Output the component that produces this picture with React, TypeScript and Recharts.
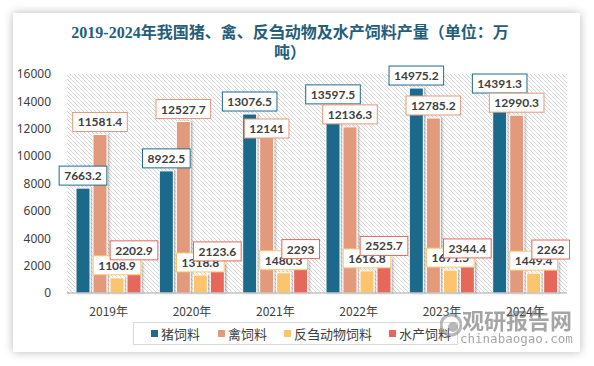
import React from "react";
import { BarChart, Bar, XAxis, YAxis, CartesianGrid, LabelList } from "recharts";

const years = ["2019年", "2020年", "2021年", "2022年", "2023年", "2024年"];
const pigFeed = [7663.2, 8922.5, 13076.5, 13597.5, 14975.2, 14391.3];
const poultryFeed = [11581.4, 12527.7, 12141, 12136.3, 12785.2, 12990.3];
const ruminantFeed = [1108.9, 1318.8, 1480.3, 1616.8, 1671.5, 1449.4];
const aquaFeed = [2202.9, 2123.6, 2293, 2525.7, 2344.4, 2262];
const yTicks = [0, 2000, 4000, 6000, 8000, 10000, 12000, 14000, 16000];

const seriesNames = ["猪饲料", "禽饲料", "反刍动物饲料", "水产饲料"];
const colors = ["#1e6a8b", "#e2997b", "#fbc46d", "#e5675a"];
const legendX = [17, 84, 150, 255];

const data = years.map((year, i) => ({
  year,
  pig: pigFeed[i],
  poultry: poultryFeed[i],
  ruminant: ruminantFeed[i],
  aqua: aquaFeed[i],
}));

const textW = (s: string) => {
  let w = 0;
  for (const c of s) w += c === "." ? 3.2 : 6.9;
  return w;
};

function BarShape(props: any) {
  const { x, y, width, height, fill } = props;
  if (!height || height <= 0) return null;
  return (
    <rect
      x={x}
      y={y}
      width={width}
      height={height}
      fill={fill}
      stroke="#ffffff"
      strokeWidth={1}
      filter="url(#barShadow)"
    />
  );
}

function makeLabel(color: string, avoid?: number[]) {
  return function BoxLabel(props: any) {
    const { x, y, width, height, value, index } = props;
    const label = String(value);
    const w = textW(label) + 10;
    const h = 19;
    const cx = Number(x) + Number(width) / 2;
    let top = Number(y) - 3 - h;
    if (avoid) {
      // push below the neighbouring label if the two boxes collide
      const base = Number(y) + Number(height);
      const px = Number(height) / Number(value);
      const otherBottom = base - avoid[index] * px - 3;
      const otherTop = otherBottom - h;
      if (top < otherBottom && top + h > otherTop) top = otherBottom + 8;
    }
    return (
      <g>
        <rect
          x={cx - w / 2}
          y={top}
          width={w}
          height={h}
          fill="#ffffff"
          stroke={color}
          strokeWidth={1}
        />
        <text
          x={cx}
          y={top + h / 2 + 4.5}
          textAnchor="middle"
          fontSize={12}
          fontWeight="bold"
          fontFamily="Lato, 'Noto Sans', sans-serif"
          fill="#404040"
        >
          {label}
        </text>
      </g>
    );
  };
}

export default function App() {
  return (
    <div
      style={{
        position: "fixed",
        left: 0,
        top: 0,
        width: 594,
        height: 366,
        background: "#ffffff",
        overflow: "hidden",
      }}
    >
      <div
        style={{
          position: "absolute",
          left: 13,
          top: 13,
          width: 567,
          height: 339,
          background: "#ffffff",
          boxShadow: "0 0 9px rgba(0,0,0,0.28)",
        }}
      />
      <div
        style={{
          position: "absolute",
          left: 60,
          top: 23,
          width: 460,
          textAlign: "center",
          fontFamily: "'Liberation Serif', 'Noto Sans CJK SC', serif",
          fontWeight: "bold",
          fontSize: 16,
          lineHeight: "20px",
          color: "#245e7a",
        }}
      >
        2019-2024年我国猪、禽、反刍动物及水产饲料产量（单位：万吨）
      </div>
      <div style={{ position: "absolute", left: 0, top: 0 }}>
        <BarChart
          width={594}
          height={366}
          data={data}
          margin={{ top: 74, right: 27, bottom: 43, left: 0 }}
          barSize={14}
          barGap={3}
        >
          <defs>
            <pattern id="hatch" width={4} height={4} patternUnits="userSpaceOnUse">
              <path
                d="M-1,-1 l2,2 M0,0 l4,4 M3,3 l2,2"
                stroke="#d6d6d6"
                strokeWidth={1}
              />
            </pattern>
            <filter id="barShadow" x="-30%" y="-5%" width="160%" height="115%">
              <feDropShadow dx={1.5} dy={0} stdDeviation={1} floodColor="#000" floodOpacity={0.3} />
            </filter>
          </defs>
          <CartesianGrid horizontal={false} vertical={false} fill="url(#hatch)" />
          <XAxis
            dataKey="year"
            tickLine={false}
            axisLine={{ stroke: "#a6a6a6" }}
            tick={{ fontSize: 12, fill: "#404040", fontFamily: "'Noto Sans CJK SC', sans-serif" }}
            tickMargin={8}
          />
          <YAxis
            width={67}
            domain={[0, 16000]}
            ticks={yTicks}
            interval={0}
            tickLine={false}
            axisLine={false}
            tick={{ fontSize: 12, fill: "#404040", fontFamily: "'Noto Sans', sans-serif" }}
            tickMargin={10}
          />
          <Bar dataKey="pig" fill={colors[0]} shape={BarShape} isAnimationActive={false}>
            <LabelList dataKey="pig" content={makeLabel(colors[0])} />
          </Bar>
          <Bar dataKey="poultry" fill={colors[1]} shape={BarShape} isAnimationActive={false}>
            <LabelList dataKey="poultry" content={makeLabel(colors[1], pigFeed)} />
          </Bar>
          <Bar dataKey="ruminant" fill={colors[2]} shape={BarShape} isAnimationActive={false}>
            <LabelList dataKey="ruminant" content={makeLabel(colors[2])} />
          </Bar>
          <Bar dataKey="aqua" fill={colors[3]} shape={BarShape} isAnimationActive={false}>
            <LabelList dataKey="aqua" content={makeLabel(colors[3])} />
          </Bar>
        </BarChart>
      </div>
      <div
        style={{
          position: "absolute",
          left: 133,
          top: 322,
          width: 325,
          height: 23,
          boxSizing: "border-box",
          border: "1px solid #d9d9d9",
          background: "#ffffff",
          fontFamily: "'Noto Sans CJK SC', sans-serif",
          fontSize: 13,
          color: "#404040",
        }}
      >
        {seriesNames.map((name, i) => (
          <div
            key={name}
            style={{
              position: "absolute",
              left: legendX[i],
              top: 0,
              height: 21,
              display: "flex",
              alignItems: "center",
              whiteSpace: "nowrap",
            }}
          >
            <span
              style={{
                display: "inline-block",
                width: 7,
                height: 7,
                background: colors[i],
                marginRight: 3,
              }}
            />
            <span style={{ lineHeight: "13px" }}>{name}</span>
          </div>
        ))}
      </div>
      <div
        style={{
          position: "absolute",
          left: 440,
          top: 306,
          width: 140,
          height: 40,
          opacity: 0.6,
          color: "#6a6a6a",
          fontFamily: "'Noto Sans CJK SC', sans-serif",
        }}
      >
        <svg width={22} height={26} style={{ position: "absolute", left: 0, top: 6 }}>
          <circle cx={11} cy={13} r={10} fill="none" stroke="#8a8a8a" strokeWidth={3} />
          <circle cx={13} cy={15} r={5} fill="#8a8a8a" />
        </svg>
        <div
          style={{
            position: "absolute",
            left: 22,
            top: 0,
            fontSize: 22,
            fontWeight: "bold",
            lineHeight: "26px",
            whiteSpace: "nowrap",
          }}
        >
          观研报告网
        </div>
        <div
          style={{
            position: "absolute",
            left: 20,
            top: 26,
            fontSize: 12.5,
            lineHeight: "14px",
            whiteSpace: "nowrap",
            fontFamily: "'DejaVu Sans Mono', monospace",
          }}
        >
          chinabaogao.com
        </div>
      </div>
    </div>
  );
}
